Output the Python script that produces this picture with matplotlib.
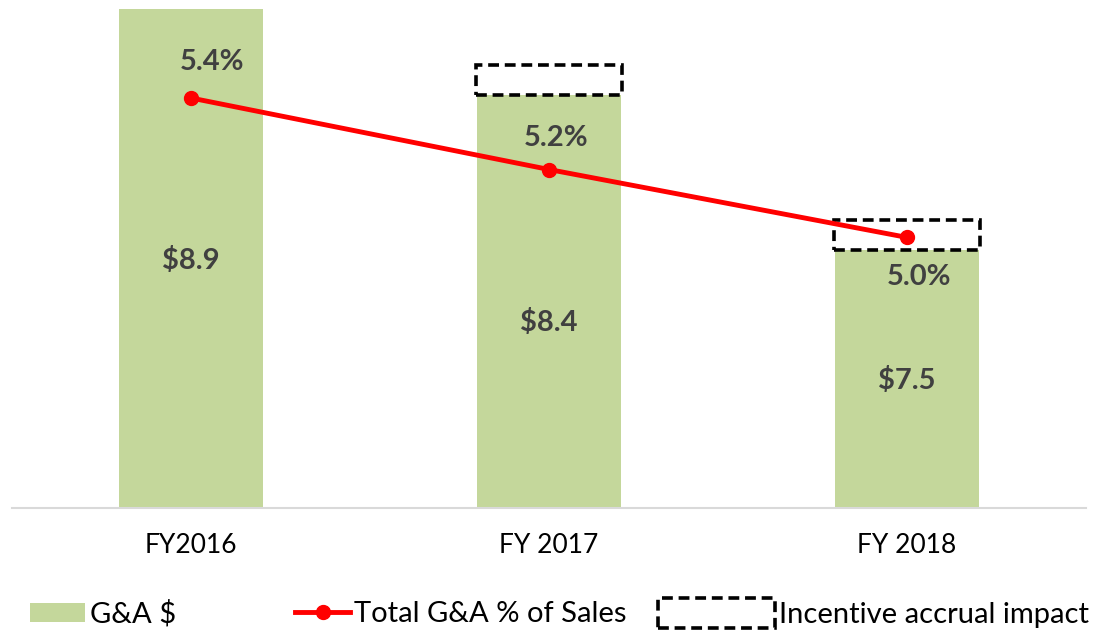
import matplotlib
matplotlib.use("Agg")
import matplotlib.pyplot as plt
from matplotlib.patches import Patch, Rectangle
from matplotlib.lines import Line2D

# data
years = ["FY2016", "FY 2017", "FY 2018"]
ga_dollars = [8.9, 8.4, 7.5]
ga_labels = ["$8.9", "$8.4", "$7.5"]
incentive = [0.0, 0.175, 0.175]
pct_sales = [5.40, 5.20, 5.01]
pct_labels = ["5.4%", "5.2%", "5.0%"]

GREEN = "#C4D79B"
RED = "#FF0000"
TXT = "#404040"
FONT = ["Lato", "DejaVu Sans"]
plt.rcParams["font.family"] = FONT

W, H = 1107, 633
fig = plt.figure(figsize=(W / 100, H / 100), dpi=100)
ax = fig.add_axes([12 / W, (H - 508) / H, (1086 - 12) / W, 500 / H])

x = list(range(len(years)))
bw = 0.4
ymin = 6.0
ax.bar(x, [v - ymin for v in ga_dollars], bottom=ymin, width=bw, color=GREEN,
       zorder=1)
for xi, v, inc in zip(x, ga_dollars, incentive):
    if inc > 0:
        ax.add_patch(Rectangle((xi - bw / 2 - 0.004, v), bw + 0.008, inc,
                               fill=False, ls=(0, (3, 1.6)), lw=2.6,
                               ec="black", zorder=3))

# dollar labels inside bars
lab_y = [7.44, 7.08, 6.74]
for xi, ly, t in zip(x, lab_y, ga_labels):
    ax.text(xi, ly, t, ha="center", va="center", fontsize=21,
            fontweight="bold", color=TXT)

ax.set_xlim(-0.5, 2.5)
ax.set_ylim(ymin, ymin + 500 / 172)
ax.set_yticks([])
ax.set_xticks(x)
ax.set_xticklabels(years, fontsize=19)
ax.tick_params(axis="x", length=0, pad=18, colors="black")
for s in ("top", "left", "right"):
    ax.spines[s].set_visible(False)
ax.spines["bottom"].set_color("#D9D9D9")
ax.spines["bottom"].set_linewidth(1.5)

ax2 = ax.twinx()
ax2.plot(x, pct_sales, color=RED, lw=3.5, marker="o", ms=10, zorder=4)
top = 5.40 + 90 / 357.5
ax2.set_ylim(top - 500 / 357.5, top)
ax2.set_yticks([])
for s in ax2.spines.values():
    s.set_visible(False)
offs = [(21, 36), (7, 32), (12, -40)]
for xi, v, t, (dx, dy) in zip(x, pct_sales, pct_labels, offs):
    ax2.annotate(t, (xi, v), xytext=(dx * 0.72, dy * 0.72),
                 textcoords="offset points", ha="center", va="center",
                 fontsize=21, fontweight="bold", color=TXT)

# legend, three separate entries like the Excel layout
common = dict(loc="center left", frameon=False, fontsize=21, borderpad=0,
              borderaxespad=0, handletextpad=0.15)
fig.legend(handles=[Patch(fc=GREEN, ec="none")], labels=["G&A $"],
           bbox_to_anchor=(30 / W, 1 - 614 / H), handlelength=1.89,
           handleheight=0.62, **common)
fig.legend(handles=[Line2D([], [], color=RED, lw=3.5, marker="o", ms=10)],
           labels=["Total G&A % of Sales"],
           bbox_to_anchor=(295 / W, 1 - 614 / H), handlelength=1.89, **common)
fig.legend(handles=[Patch(fill=False, ec="black", ls=(0, (3, 1.6)), lw=2.6)],
           labels=["Incentive accrual impact"],
           bbox_to_anchor=(658 / W, 1 - 613 / H), handlelength=4.0,
           handleheight=1.2, **common)

fig.savefig("out.png", dpi=100)
